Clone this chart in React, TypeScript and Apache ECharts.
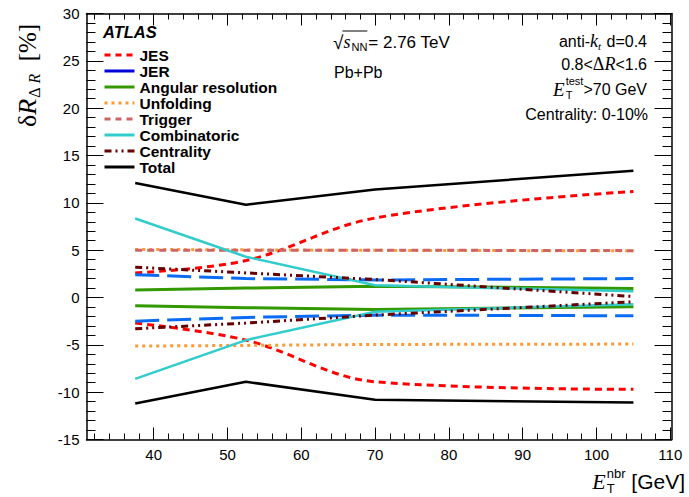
import React, { useEffect, useRef } from "react";
import * as echarts from "echarts";

// ---------- data ----------
const XS = [37.5, 52.5, 70, 105];
const jesUp = [2.6, 3.9, 8.4, 11.2];
const jesDn = [-2.7, -4.5, -8.9, -9.7];
const jerUp = [2.4, 2.0, 1.85, 2.0];
const jerDn = [-2.5, -2.1, -1.86, -1.93];
const angUp = [0.8, 1.0, 1.2, 0.96];
const angDn = [-0.87, -1.08, -1.26, -0.98];
const unfUp = [5.08, 5.03, 4.98, 4.93];
const unfDn = [-5.13, -5.06, -4.96, -4.92];
const trgUp = [5.0, 5.0, 5.0, 4.95];
const combUp = [8.35, 4.3, 1.3, 0.65];
const combDn = [-8.6, -4.5, -1.5, -0.7];
const centUp = [3.2, 2.6, 1.9, 0.1];
const centDn = [-3.3, -2.7, -1.86, -0.45];
const totUp = [12.1, 9.8, 11.4, 13.4];
const totDn = [-11.2, -8.9, -10.8, -11.1];

const X_MIN = 30.9;
const X_MAX = 110.16;
const X_MAJOR = [40, 50, 60, 70, 80, 90, 100, 110];
const X_MINOR = [32, 34, 36, 38, 42, 44, 46, 48, 52, 54, 56, 58, 62, 64, 66, 68, 72, 74, 76, 78, 82, 84, 86, 88, 92, 94, 96, 98, 102, 104, 106, 108];
const Y_MIN = -15;
const Y_MAX = 30;
const Y_STEP = 5;

const LEGEND_NAMES = ["JES", "JER", "Angular resolution", "Unfolding", "Trigger", "Combinatoric", "Centrality", "Total"];

const SANS = "Liberation Sans";
const SERIF = "Liberation Serif";

type Part = { t: string; s: number; f?: string; i?: boolean; b?: boolean; dy?: number; dx?: number; pad?: number };
type Item = Part | Part[];

let _ctx: CanvasRenderingContext2D | null = null;
function fontStr(p: Part) {
  return `${p.i ? "italic " : ""}${p.b ? "bold " : ""}${p.s}px "${p.f || SANS}"`;
}
function measure(p: Part) {
  if (!_ctx) _ctx = document.createElement("canvas").getContext("2d");
  _ctx!.font = fontStr(p);
  return _ctx!.measureText(p.t).width + (p.pad || 0);
}
function textEl(p: Part, x: number, y: number) {
  return {
    type: "text",
    x: x + (p.dx || 0),
    y: y + (p.dy || 0),
    silent: true,
    style: {
      text: p.t,
      fontSize: p.s,
      fontFamily: p.f || SANS,
      fontStyle: p.i ? "italic" : "normal",
      fontWeight: p.b ? "bold" : "normal",
      fill: "#000",
      align: "left",
      verticalAlign: "middle",
      textAlign: "left",
      textVerticalAlign: "middle",
    },
  };
}
function compose(items: Item[], x: number, y: number, align: "left" | "right") {
  const widths = items.map((it) => (Array.isArray(it) ? Math.max(...it.map(measure)) : measure(it)));
  const total = widths.reduce((a, b) => a + b, 0);
  let cx = align === "right" ? x - total : x;
  const els: any[] = [];
  const xs: number[] = [];
  items.forEach((it, k) => {
    xs.push(cx);
    if (Array.isArray(it)) it.forEach((p) => els.push(textEl(p, cx, y)));
    else els.push(textEl(it, cx, y));
    cx += widths[k];
  });
  xs.push(cx);
  return { els, xs };
}

function mk(name: string, vals: number[], color: string, type: any, width: number, smooth: any = false) {
  return {
    type: "line",
    name,
    data: XS.map((x, i) => [x, vals[i]]),
    xAxisIndex: 0,
    yAxisIndex: 0,
    symbol: "none",
    showSymbol: false,
    smooth,
    silent: true,
    emphasis: { disabled: true },
    lineStyle: { color, width, type },
    itemStyle: { color },
  };
}

export default function App() {
  const ref = useRef<HTMLDivElement>(null);
  useEffect(() => {
    const chart = echarts.init(ref.current!, null, { renderer: "svg" });

    const axisLineStyle = { color: "#000", width: 1.5 };
    const tickStyle = { color: "#000", width: 1 };
    const baseX = {
      type: "value",
      min: X_MIN,
      max: X_MAX,
      splitLine: { show: false },
      minorSplitLine: { show: false },
    };
    const xAxis = [
      {
        ...baseX,
        position: "bottom",
        axisLine: { show: true, onZero: false, lineStyle: axisLineStyle },
        axisTick: { show: true, inside: true, length: 12, customValues: X_MAJOR, lineStyle: tickStyle },
        axisLabel: { show: true, customValues: X_MAJOR, margin: 7, color: "#000", fontSize: 15, fontFamily: SANS },
      },
      {
        ...baseX,
        position: "bottom",
        axisLine: { show: false, onZero: false },
        axisTick: { show: true, inside: true, length: 6, customValues: X_MINOR, lineStyle: tickStyle },
        axisLabel: { show: false },
      },
      {
        ...baseX,
        position: "top",
        axisLine: { show: true, onZero: false, lineStyle: axisLineStyle },
        axisTick: { show: true, inside: true, length: 12, customValues: X_MAJOR, lineStyle: tickStyle },
        axisLabel: { show: false },
      },
      {
        ...baseX,
        position: "top",
        axisLine: { show: false, onZero: false },
        axisTick: { show: true, inside: true, length: 6, customValues: X_MINOR, lineStyle: tickStyle },
        axisLabel: { show: false },
      },
    ];
    const baseY = {
      type: "value",
      min: Y_MIN,
      max: Y_MAX,
      interval: Y_STEP,
      splitLine: { show: false },
      minorSplitLine: { show: false },
      axisLine: { show: true, onZero: false, lineStyle: axisLineStyle },
      axisTick: { show: true, inside: true, length: 17, lineStyle: tickStyle },
      minorTick: { show: true, splitNumber: 5, length: 9, lineStyle: tickStyle },
    };
    const yAxis = [
      {
        ...baseY,
        position: "left",
        axisLabel: { show: true, margin: 7, color: "#000", fontSize: 15, fontFamily: SANS },
      },
      { ...baseY, position: "right", axisLabel: { show: false } },
    ];

    const series = [
      mk("JES", jesUp, "#ff0000", [7, 5], 3, 0.35),
      mk("JES", jesDn, "#ff0000", [7, 5], 3, 0.35),
      mk("JER", jerUp, "#0a6cf5", [24, 8], 3),
      mk("JER", jerDn, "#0a6cf5", [24, 8], 3),
      mk("Angular resolution", angUp, "#339900", "solid", 3),
      mk("Angular resolution", angDn, "#339900", "solid", 3),
      mk("Unfolding", unfUp, "#ff9933", [3, 4], 3),
      mk("Unfolding", unfDn, "#ff9933", [3, 4], 3),
      mk("Trigger", trgUp, "#cc6666", [7, 5], 3),
      mk("Combinatoric", combUp, "#33cccc", "solid", 2.5),
      mk("Combinatoric", combDn, "#33cccc", "solid", 2.5),
      mk("Centrality", centUp, "#660000", [7, 4, 2, 4, 2, 4], 3),
      mk("Centrality", centDn, "#660000", [7, 4, 2, 4, 2, 4], 3),
      mk("Total", totUp, "#000000", "solid", 2.5),
      mk("Total", totDn, "#000000", "solid", 2.5),
    ];

    const legendStyles: Record<string, any> = {
      JES: { color: "#ff0000", type: [6, 5] },
      JER: { color: "#0000dd", type: "solid" },
      "Angular resolution": { color: "#339900", type: "solid" },
      Unfolding: { color: "#ff9933", type: [3, 4] },
      Trigger: { color: "#cc6666", type: [6, 5] },
      Combinatoric: { color: "#33cccc", type: "solid" },
      Centrality: { color: "#660000", type: [7, 4, 2, 4, 2, 4] },
      Total: { color: "#000000", type: "solid" },
    };

    // ---------- texts ----------
    const g: any[] = [];
    g.push(...compose([{ t: "ATLAS", s: 16.5, b: true, i: true }], 103, 32, "left").els);

    const sq = compose(
      [
        { t: "\u221A", s: 19 },
        { t: "s", s: 18, f: SERIF, i: true, pad: 1 },
        { t: "NN", s: 11, dy: 5, pad: 1 },
        { t: "= 2.76 TeV", s: 17 },
      ],
      333,
      42,
      "left"
    );
    g.push(...sq.els);
    g.push({
      type: "line",
      silent: true,
      shape: { x1: sq.xs[1] - 1, y1: 31, x2: sq.xs[3] - 1, y2: 31 },
      style: { stroke: "#000", lineWidth: 1 },
    });
    g.push(...compose([{ t: "Pb+Pb", s: 16 }], 334, 72, "left").els);

    const RX = 647;
    g.push(
      ...compose(
        [
          { t: "anti-", s: 16 },
          { t: "k", s: 18, f: SERIF, i: true },
          { t: "t", s: 11, f: SERIF, i: true, dy: 5, pad: 1 },
          { t: " d=0.4", s: 16 },
        ],
        RX,
        41,
        "right"
      ).els
    );
    g.push(
      ...compose(
        [
          { t: "0.8<", s: 16 },
          { t: "\u0394", s: 18, f: SERIF },
          { t: "R", s: 18, f: SERIF, i: true },
          { t: "<1.6", s: 16 },
        ],
        RX,
        64,
        "right"
      ).els
    );
    g.push(
      ...compose(
        [
          { t: "E", s: 19, f: SERIF, i: true, pad: 1 },
          [
            { t: "test", s: 11, dy: -8 },
            { t: "T", s: 11, dy: 6 },
          ],
          { t: ">70 GeV", s: 16 },
        ],
        RX,
        89,
        "right"
      ).els
    );
    g.push(...compose([{ t: "Centrality: 0-10%", s: 16 }], RX + 1, 114, "right").els);

    // x-axis title
    g.push(
      ...compose(
        [
          { t: "E", s: 22, f: SERIF, i: true, pad: 1 },
          [
            { t: "nbr", s: 13, dy: -8 },
            { t: "T", s: 13, dy: 7 },
          ],
          { t: " [GeV]", s: 21 },
        ],
        685,
        481,
        "right"
      ).els
    );

    // y-axis title (rotated)
    const yt = compose(
      [
        { t: "\u03B4", s: 26, f: SERIF },
        { t: "R", s: 26, f: SERIF, i: true, pad: 1 },
        { t: "\u0394 ", s: 16, f: SERIF, dy: 7 },
        { t: "R", s: 16, f: SERIF, i: true, dy: 7 },
        { t: "  [%]", s: 25, f: SERIF },
      ],
      0,
      0,
      "left"
    );
    g.push({ type: "group", x: 27, y: 127, rotation: Math.PI / 2, silent: true, children: yt.els });

    chart.setOption({
      animation: false,
      backgroundColor: "#ffffff",
      grid: { left: 86.5, top: 13.5, right: 17.5, bottom: 57.5, containLabel: false, outerBoundsMode: "none" },
      xAxis,
      yAxis,
      legend: {
        show: true,
        orient: "vertical",
        left: 103,
        top: 47,
        padding: 0,
        itemWidth: 30,
        itemHeight: 14,
        itemGap: 0,
        selectedMode: false,
        textStyle: { color: "#000", fontSize: 15.5, lineHeight: 16, fontWeight: "bold", fontFamily: SANS },
        data: LEGEND_NAMES.map((n) => ({
          name: n,
          itemStyle: { color: legendStyles[n].color, opacity: 0 },
          lineStyle: { color: legendStyles[n].color, type: legendStyles[n].type, width: 3, opacity: 1 },
        })),
      },
      series,
      graphic: g,
    });
    return () => chart.dispose();
  }, []);
  return <div ref={ref} style={{ position: "fixed", left: 0, top: 0, width: 689, height: 497, background: "#fff" }} />;
}
